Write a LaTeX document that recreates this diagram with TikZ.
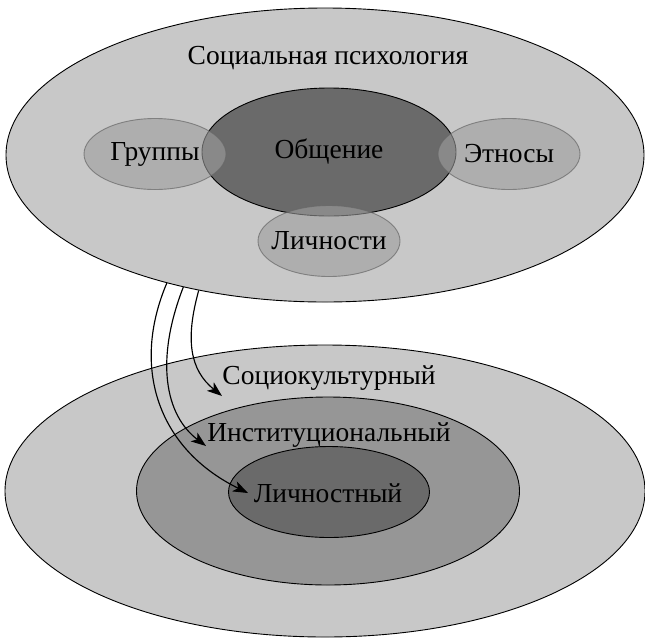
\documentclass[tikz,border=0pt]{standalone}
\usepackage{fontspec}
\setmainfont{Liberation Serif}
\newfontfamily\diagfont{Liberation Serif}
\usetikzlibrary{shapes.geometric,arrows.meta}
\definecolor{lightg}{gray}{0.784}
\definecolor{midg}{gray}{0.588}
\definecolor{darkg}{gray}{0.416}
\definecolor{smallg}{gray}{0.62}
\begin{document}
\begin{tikzpicture}[x=1pt,y=-1pt,
  every node/.style={font=\diagfont\fontsize{27.5}{32}\selectfont},
  region/.style={ellipse, draw=black, line width=0.9pt, inner sep=0pt},
  outerreg/.style={region, fill=lightg},
  midreg/.style={region, fill=midg},
  darkreg/.style={region, fill=darkg},
  smallreg/.style={ellipse, inner sep=0pt, draw=gray!80!black, fill=smallg, fill opacity=0.6, draw opacity=0.7, line width=0.9pt, minimum width=142pt, minimum height=71pt},
  txt/.style={inner sep=0pt},
  flow/.style={draw=black, line width=1.15pt, -{Stealth[length=15pt,width=11pt,inset=4pt]}}
]
\useasboundingbox (0,0) rectangle (645,638);
% top
\node[outerreg, minimum width=638pt, minimum height=294pt] (sp) at (325,155) {};
\node[txt] (sptext) at (328,58) {Социальная психология};
\node[darkreg, minimum width=254pt, minimum height=128pt] (obsh) at (329,152) {};
\node[smallreg] (gr) at (155,154) {};
\node[smallreg] (et) at (509,154) {};
\node[smallreg] (li) at (329,241) {};
\node[txt] (obshT) at (obsh.center) {Общение};
\node[txt] (grT) at (gr.center) {Группы};
\node[txt] (etT) at (et.center) {Этносы};
\node[txt] (liT) at (li.center) {Личности};
% bottom
\node[outerreg, minimum width=640pt, minimum height=292pt] (bot) at (325,491) {};
\node[midreg, minimum width=383pt, minimum height=188pt] (inst) at (328,491) {};
\node[darkreg, minimum width=201pt, minimum height=91pt] (pers) at (329,492) {};
\node[txt] (t1) at (329,378) {Социокультурный};
\node[txt] (t2) at (329,435) {Институциональный};
\node[txt] (t3) at (328,493) {Личностный};
% arrow ends
\coordinate (e1) at (222,396);
\coordinate (e2) at (206,446);
\coordinate (e3) at (248,493);
\draw[flow] (sp.227.2) .. controls (185,340) and (190,370) .. (e1);
\draw[flow] (sp.223.5) .. controls (155,360) and (165,415) .. (e2);
\draw[flow] (sp.219.2) .. controls (130,370) and (160,450) .. (e3);
\end{tikzpicture}
\end{document}
